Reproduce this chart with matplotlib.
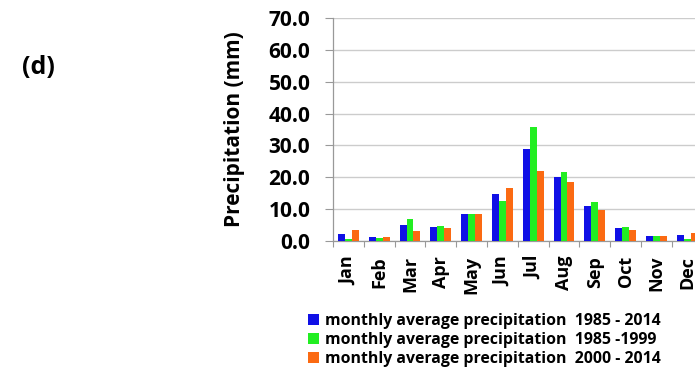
import matplotlib
matplotlib.use("Agg")
import matplotlib.pyplot as plt
from matplotlib.patches import Patch
import numpy as np

months = ["Jan", "Feb", "Mar", "Apr", "May", "Jun", "Jul", "Aug", "Sep", "Oct", "Nov", "Dec"]
precip_1985_2014 = [2.0, 1.2, 4.8, 4.2, 8.3, 14.6, 28.9, 20.0, 10.9, 3.9, 1.5, 1.7]
precip_1985_1999 = [0.5, 1.0, 6.7, 4.7, 8.3, 12.4, 35.7, 21.7, 12.2, 4.3, 1.5, 0.5]
precip_2000_2014 = [3.5, 1.3, 3.1, 3.9, 8.3, 16.7, 21.8, 18.6, 9.7, 3.5, 1.5, 2.5]
series_labels = [
    "monthly average precipitation  1985 - 2014",
    "monthly average precipitation  1985 -1999",
    "monthly average precipitation  2000 - 2014",
]
y_ticks = [0, 10, 20, 30, 40, 50, 60, 70]

colors = ["#1010e6", "#22ee22", "#fb6a12"]
FONT = "Open Sans"

fig = plt.figure(figsize=(6.95, 3.74), dpi=100)
W, H = 695, 374
left, right, top, bottom = 333, 702.6, 18.3, 240.7
ax = fig.add_axes([left / W, 1 - bottom / H, (right - left) / W, (bottom - top) / H])

x = np.arange(len(months))
bw = 0.227
for i, (vals, c) in enumerate(zip([precip_1985_2014, precip_1985_1999, precip_2000_2014], colors)):
    ax.bar(x + (i - 1) * bw, vals, width=bw, color=c, zorder=3, linewidth=0)

ax.set_xlim(-0.5, len(months) - 0.5)
ax.set_ylim(0, 70)
ax.set_yticks(y_ticks)
ax.set_yticklabels([f"{v:.1f}" for v in y_ticks], fontfamily=FONT, fontweight="bold", fontsize=15)
ax.set_xticks(x)
ax.set_xticklabels(months, rotation=90, fontfamily=FONT, fontweight="bold", fontsize=13)
ax.set_xticks(np.arange(-0.5, len(months), 1), minor=True)
ax.tick_params(axis="x", which="major", length=0, pad=11)
ax.tick_params(axis="x", which="minor", length=4, color="#999999", width=0.8)
ax.tick_params(axis="y", length=5.8, color="#999999", width=0.8, pad=10.5)

ax.grid(axis="y", color="#cccccc", linewidth=1.0, zorder=0)
for s in ["top", "right"]:
    ax.spines[s].set_visible(False)
for s in ["left", "bottom"]:
    ax.spines[s].set_color("#999999")
    ax.spines[s].set_linewidth(0.9)

ax.set_ylabel("Precipitation (mm)", fontfamily=FONT, fontweight="bold", fontsize=15, labelpad=17)

handles = [Patch(facecolor=c, edgecolor="none") for c in colors]
fig.legend(handles, series_labels, loc="upper left", bbox_to_anchor=(308 / W, 1 - 313 / H),
           frameon=False, prop={"family": FONT, "weight": "bold", "size": 11.4},
           handlelength=0.7, handleheight=0.7, handletextpad=0.4, labelspacing=0.2,
           borderpad=0, borderaxespad=0)

fig.text(22 / W, 1 - 68 / H, "(d)", fontfamily=FONT, fontweight="bold", fontsize=18, va="center", ha="left")

fig.savefig("out.png", dpi=100)
